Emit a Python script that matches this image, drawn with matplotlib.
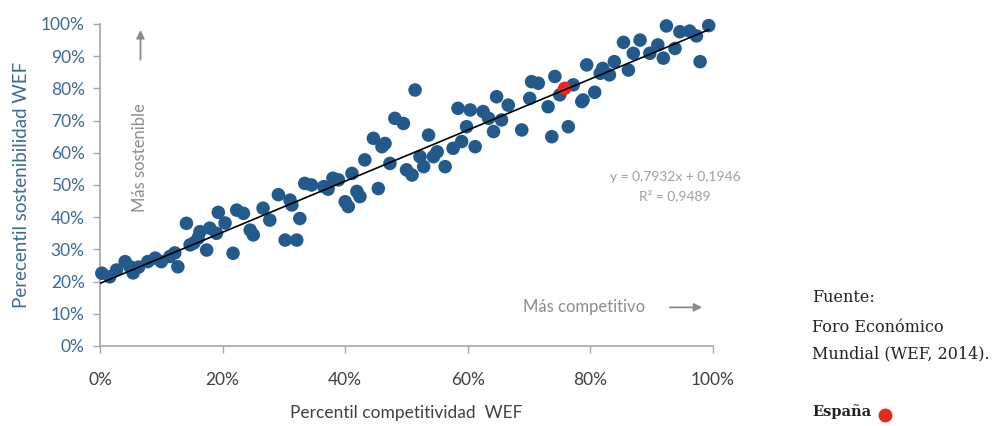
import matplotlib
matplotlib.use("Agg")
import matplotlib.pyplot as plt
import numpy as np
from matplotlib.ticker import PercentFormatter

# Percentiles (%)
competitividad = [
    0.3, 1.6, 2.7, 4.1, 4.9, 5.4, 7.8, 9.0, 10.0, 11.4, 12.2, 12.7, 14.1, 14.7, 16.0,
    16.3, 17.4, 17.9, 19.3, 20.4, 19.0, 21.7, 22.3, 23.4, 24.5, 25.0, 26.6, 27.7, 29.1,
    30.2, 31.0, 31.3, 32.1, 32.6, 33.4, 34.5, 38.0, 38.9, 40.0, 40.5, 41.1, 41.9, 42.4,
    43.2, 44.6, 45.4, 46.0, 46.5, 47.3, 48.1, 49.5, 50.0, 50.9, 51.4, 52.2, 52.8, 53.6,
    54.4, 55.0, 56.3, 57.6, 58.4, 59.0, 59.8, 60.4, 61.2, 62.5, 63.4, 64.2, 64.7, 65.5,
    66.6, 68.8, 70.1, 70.4, 71.5, 73.1, 73.7, 74.2, 75.0, 76.4, 77.2, 78.6, 78.8, 79.4,
    80.7, 81.6, 82.0, 83.1, 83.9, 85.4, 86.2, 87.0, 88.1, 89.7, 91.0, 91.9, 92.4, 93.8,
    94.6, 96.2, 97.3, 97.9, 99.3, 6.3, 15.3, 36.5, 37.2,
]
sostenibilidad = [
    22.6, 21.5, 23.6, 26.2, 24.6, 22.7, 26.2, 27.3, 26.2, 27.8, 28.9, 24.6, 38.1, 31.4, 33.5,
    35.5, 29.8, 36.6, 41.5, 38.2, 35.0, 28.8, 42.2, 41.2, 36.0, 34.5, 42.8, 39.1, 47.0,
    32.9, 45.3, 43.8, 32.9, 39.6, 50.5, 50.0, 52.1, 51.6, 44.8, 43.3, 53.6, 48.0, 46.4,
    57.8, 64.5, 48.9, 61.9, 62.9, 56.7, 70.7, 69.1, 54.7, 53.1, 79.5, 58.8, 55.7, 65.5,
    58.8, 60.3, 55.7, 61.4, 73.8, 63.5, 68.1, 73.3, 61.9, 72.8, 70.7, 66.6, 77.4, 70.2,
    74.8, 67.1, 76.9, 82.1, 81.6, 74.3, 65.0, 83.7, 78.0, 68.1, 81.1, 75.9, 76.4, 87.3,
    78.8, 84.7, 86.2, 84.2, 88.3, 94.3, 85.7, 90.9, 95.0, 90.9, 93.5, 89.4, 99.4, 92.4,
    97.6, 97.8, 96.3, 88.3, 99.5, 24.5, 32.0, 49.5, 48.7,
]
espana_x = [75.8]
espana_y = [80.0]

pendiente = 0.7932
ordenada = 0.1946

x_ticks = [0, 20, 40, 60, 80, 100]
y_ticks = [0, 10, 20, 30, 40, 50, 60, 70, 80, 90, 100]

blue = "#225a8c"
gray_axis = "#a6a6a6"
gray_text = "#8c8c8c"

plt.rcParams["font.family"] = ["Lato", "DejaVu Sans"]

fig = plt.figure(figsize=(9.92, 4.26), dpi=100)
ax = fig.add_axes([100 / 992, 80 / 426, 613 / 992, 322 / 426])

ax.scatter(competitividad, sostenibilidad, s=95, color=blue, edgecolors="none",
           zorder=3, clip_on=False)
ax.scatter(espana_x, espana_y, s=95, color="#e8281e", edgecolors="none", zorder=4)

xl = np.array([0, 99.3])
ax.plot(xl, (pendiente * xl / 100 + ordenada) * 100, color="black", lw=1.2, zorder=5)

ax.set_xlim(0, 100)
ax.set_ylim(0, 100)
ax.set_xticks(x_ticks)
ax.set_yticks(y_ticks)
ax.xaxis.set_major_formatter(PercentFormatter(decimals=0))
ax.yaxis.set_major_formatter(PercentFormatter(decimals=0))

for s in ["top", "right"]:
    ax.spines[s].set_visible(False)
for s in ["left", "bottom"]:
    ax.spines[s].set_color(gray_axis)
    ax.spines[s].set_linewidth(1.2)

ax.tick_params(axis="x", colors=gray_axis, labelcolor="#404040", labelsize=12.5,
               length=5, width=1, direction="out", pad=14)
ax.tick_params(axis="y", colors=gray_axis, labelcolor="#3f6a96", labelsize=12.5,
               length=5, width=1, direction="out", pad=6)

ax.set_xlabel("Percentil competitividad  WEF", fontsize=12.5, color="#404040", labelpad=12)
ax.set_ylabel("Perecentil sostenibilidad WEF", fontsize=13.5, color="#3f6a96", labelpad=8)

# Direction annotations
ax.text(6.6, 58.5, "Más sostenible", rotation=90, ha="center", va="center",
        fontsize=12, color=gray_text)
ax.annotate("", xy=(6.6, 99), xytext=(6.6, 88),
            arrowprops=dict(arrowstyle="-|>", color=gray_text, lw=1.3, mutation_scale=12))
ax.text(79.0, 12, "Más competitivo", ha="center", va="center", fontsize=12, color=gray_text)
ax.annotate("", xy=(98.7, 12), xytext=(92.5, 12),
            arrowprops=dict(arrowstyle="-|>", color=gray_text, lw=1.3, mutation_scale=12))

# Regression equation
ax.text(93.8, 49.5, "y = 0,7932x + 0,1946\nR² = 0,9489", ha="center", va="center",
        fontsize=10, color="#a0a0a0", linespacing=1.55)

# Source note
serif = "DejaVu Serif"
fig.text(812 / 992, 1 - 297 / 426, "Fuente:", fontsize=11.5, family=serif,
         color="#222222", va="center")
fig.text(812 / 992, 1 - 327 / 426, "Foro Económico", fontsize=11.5, family=serif,
         color="#222222", va="center")
fig.text(812 / 992, 1 - 354 / 426, "Mundial (WEF, 2014).", fontsize=11.5, family=serif,
         color="#222222", va="center")
fig.text(812 / 992, 1 - 412 / 426, "España", fontsize=10.5, family=serif,
         weight="bold", color="#222222", va="center")
fig.add_artist(plt.Line2D([885 / 992], [1 - 415 / 426], marker="o", markersize=9,
                          color="#e8281e", transform=fig.transFigure))

fig.savefig("out.png", dpi=100)
